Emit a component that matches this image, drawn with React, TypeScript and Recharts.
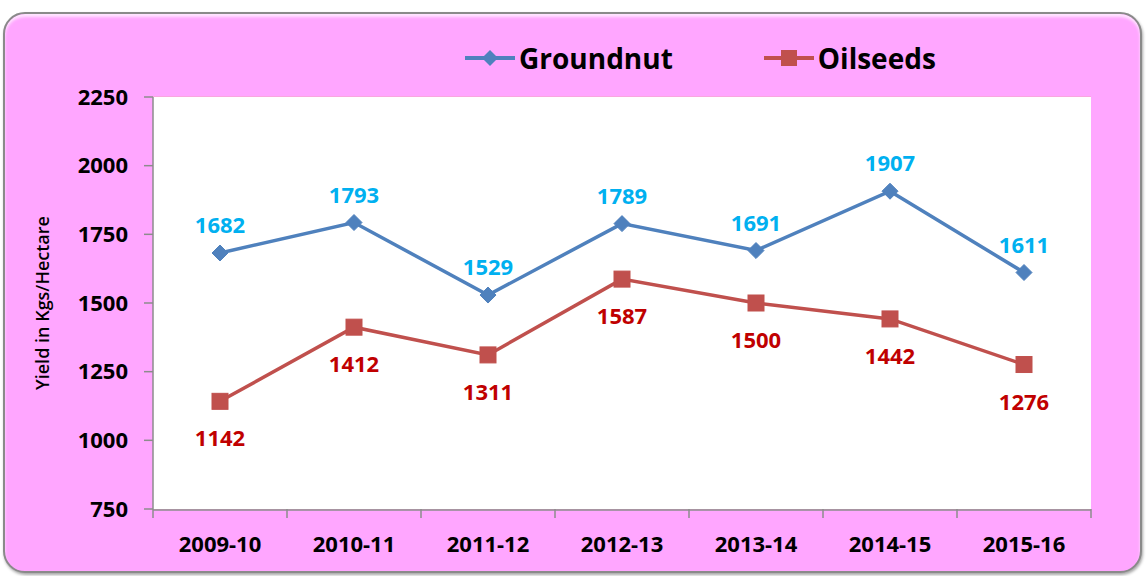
import React from "react";
import { LineChart, Line, XAxis, YAxis, CartesianGrid, LabelList } from "recharts";

// Yield (kg/ha) by crop year
const years = ["2009-10", "2010-11", "2011-12", "2012-13", "2013-14", "2014-15", "2015-16"];
const groundnut = [1682, 1793, 1529, 1789, 1691, 1907, 1611];
const oilseeds = [1142, 1412, 1311, 1587, 1500, 1442, 1276];
const yTicks = [750, 1000, 1250, 1500, 1750, 2000, 2250];
const bandEdges = [0, 1, 2, 3, 4, 5, 6, 7];

// pos = band centre on the numeric edge axis
const rows = years.map((year, i) => ({ year, pos: i + 0.5, groundnut: groundnut[i], oilseeds: oilseeds[i] }));

const FONT = "'Open Sans', 'DejaVu Sans', sans-serif";
const BLUE = "#4F81BD";
const RED = "#C0504D";
const AXIS = "#8c8c8c";

function Diamond(props: any) {
  const { cx, cy } = props;
  if (cx == null || cy == null) return null;
  const r = 8;
  return (
    <path
      d={`M${cx},${cy - r} L${cx + r},${cy} L${cx},${cy + r} L${cx - r},${cy} Z`}
      fill={BLUE}
      stroke={BLUE}
      strokeWidth={1}
    />
  );
}

function Square(props: any) {
  const { cx, cy } = props;
  if (cx == null || cy == null) return null;
  const h = 8;
  return <rect x={cx - h} y={cy - h} width={h * 2} height={h * 2} fill={RED} stroke={RED} strokeWidth={1} />;
}

// data labels above (groundnut) / below (oilseeds) the markers
const makeLabel = (color: string, dy: number) => (props: any) => {
  const { x, y, value } = props;
  return (
    <text
      x={x}
      y={y + dy}
      textAnchor="middle"
      dominantBaseline="central"
      fill={color}
      fontFamily={FONT}
      fontWeight={700}
      fontSize={22}
    >
      {value}
    </text>
  );
};

function LegendItem({ label, color, square }: { label: string; color: string; square?: boolean }) {
  return (
    <div style={{ display: "flex", alignItems: "center" }}>
      <svg width={52} height={20}>
        <line x1={1} y1={10} x2={51} y2={10} stroke={color} strokeWidth={4} />
        {square ? (
          <rect x={18} y={2} width={16} height={16} fill={color} />
        ) : (
          <path d="M26,2 L34,10 L26,18 L18,10 Z" fill={color} />
        )}
      </svg>
      <span style={{ fontFamily: FONT, fontWeight: 700, fontSize: 28, color: "#000", marginLeft: 3 }}>{label}</span>
    </div>
  );
}

const NoTick = () => <g />;

export default function App() {
  return (
    <div style={{ position: "fixed", left: 0, top: 0, width: 1146, height: 576, background: "#fff", overflow: "hidden" }}>
      <div
        style={{
          position: "absolute",
          left: 3,
          top: 12,
          width: 1139,
          height: 561,
          background: "#FFA6FF",
          border: "2px solid #8a8a8a",
          borderRadius: 22,
          boxSizing: "border-box",
          boxShadow: "inset 0 3px 3px rgba(255,255,255,0.7), 1px 2px 3px rgba(0,0,0,0.35)",
        }}
      />
      <div style={{ position: "absolute", left: 464, top: 39, display: "flex", gap: 90 }}>
        <LegendItem label="Groundnut" color={BLUE} />
        <LegendItem label="Oilseeds" color={RED} square />
      </div>
      <div
        style={{
          position: "absolute",
          left: 42,
          top: 303,
          transform: "translate(-50%, -50%) rotate(-90deg)",
          fontFamily: FONT,
          fontWeight: 600,
          fontSize: 18,
          whiteSpace: "nowrap",
          color: "#000",
        }}
      >
        Yield in Kgs/Hectare
      </div>
      <div style={{ position: "absolute", left: 0, top: 0 }}>
        <LineChart width={1146} height={576} data={rows} margin={{ top: 97, right: 55, bottom: 27, left: 73 }}>
          <rect x={153} y={97} width={938} height={412} fill="#fff" />
          <CartesianGrid vertical={false} stroke="#F2A7BE" strokeWidth={1.2} />
          {/* band boundary tick marks right under the plot */}
          <XAxis
            dataKey="pos"
            type="number"
            domain={[0, 7]}
            allowDataOverflow
            ticks={bandEdges}
            interval={0}
            height={1}
            axisLine={false}
            tickLine={{ stroke: AXIS, strokeWidth: 1.5 }}
            tickSize={9}
            tick={<NoTick />}
          />
          <XAxis
            xAxisId="years"
            dataKey="year"
            height={39}
            padding={{ left: 67, right: 67 }}
            axisLine={{ stroke: AXIS, strokeWidth: 1.5 }}
            tickLine={false}
            tick={{ fill: "#000", fontFamily: FONT, fontWeight: 700, fontSize: 22 }}
            tickMargin={20}
          />
          <YAxis
            width={80}
            domain={[750, 2250]}
            ticks={yTicks}
            interval={0}
            axisLine={{ stroke: AXIS, strokeWidth: 1.5 }}
            tickLine={{ stroke: AXIS, strokeWidth: 1.5 }}
            tickSize={9}
            tick={{ fill: "#000", fontFamily: FONT, fontWeight: 700, fontSize: 22 }}
            tickMargin={16}
          />
          <Line
            xAxisId="years"
            dataKey="groundnut"
            stroke={BLUE}
            strokeWidth={3.5}
            dot={<Diamond />}
            activeDot={false}
            isAnimationActive={false}
          >
            <LabelList dataKey="groundnut" content={makeLabel("#00B0F0", -29)} />
          </Line>
          <Line
            xAxisId="years"
            dataKey="oilseeds"
            stroke={RED}
            strokeWidth={3.5}
            dot={<Square />}
            activeDot={false}
            isAnimationActive={false}
          >
            <LabelList dataKey="oilseeds" content={makeLabel("#C00000", 36)} />
          </Line>
        </LineChart>
      </div>
    </div>
  );
}
